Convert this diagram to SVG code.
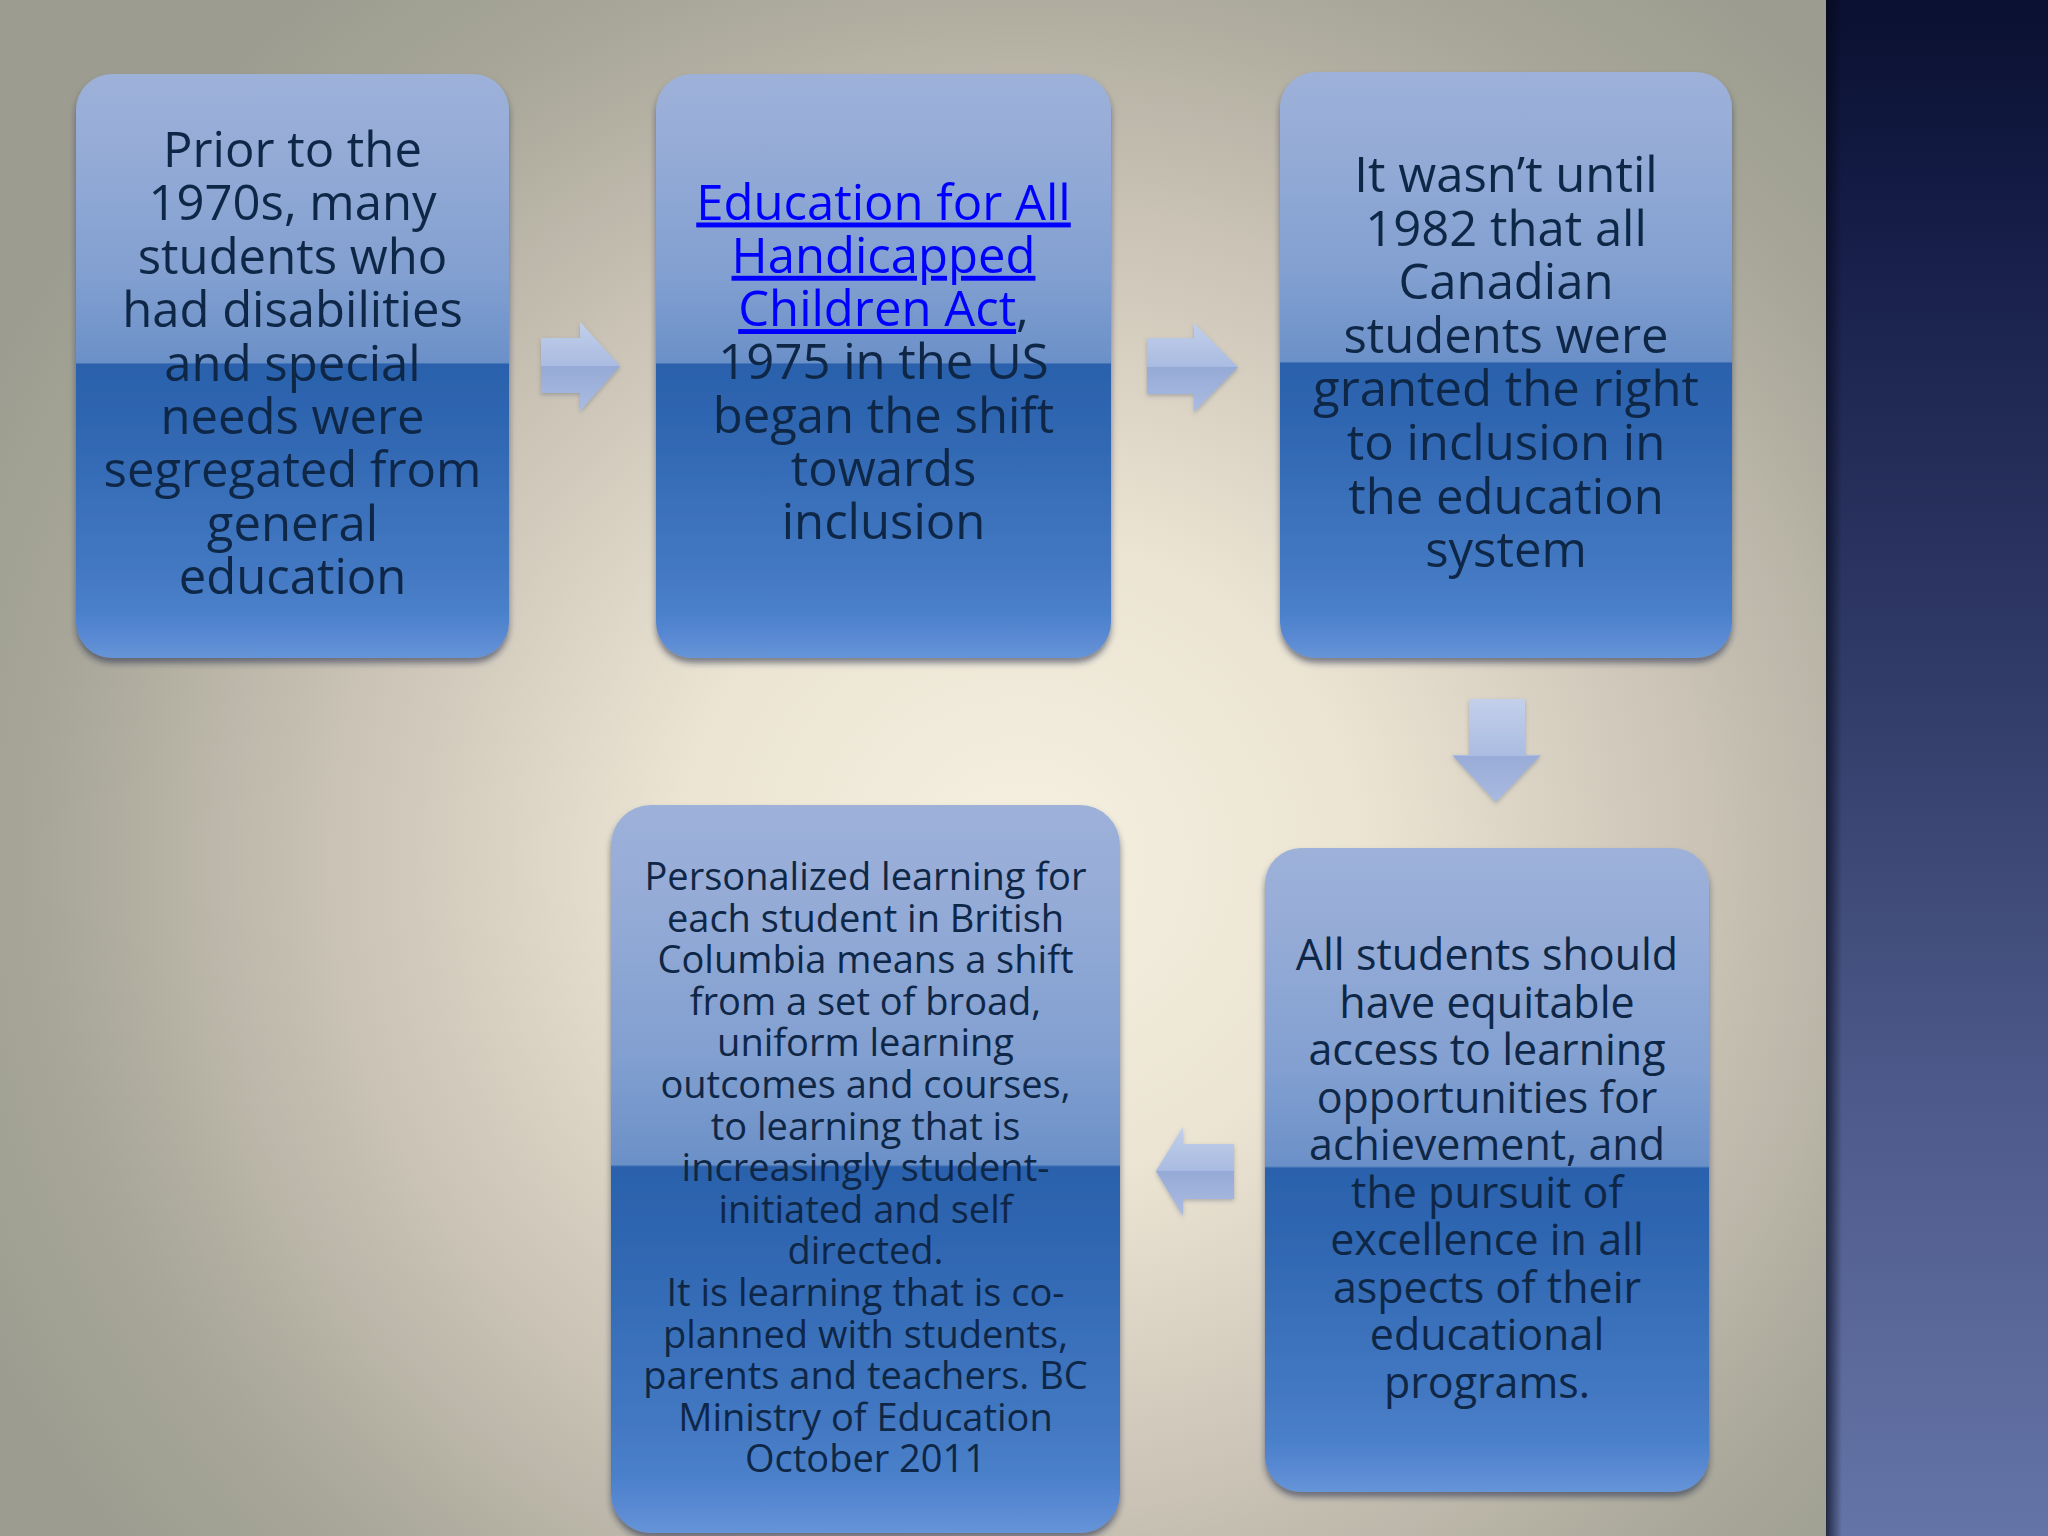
<svg xmlns="http://www.w3.org/2000/svg" width="2048" height="1536" viewBox="0 0 2048 1536">
  <defs>
    <radialGradient id="bg" gradientUnits="userSpaceOnUse" cx="1020" cy="860" r="1150" gradientTransform="translate(1020 860) scale(1 0.95) translate(-1020 -860)">
      <stop offset="0" stop-color="#f6f0e1"/>
      <stop offset="0.3" stop-color="#ebe4d3"/>
      <stop offset="0.6" stop-color="#c9c2b5"/>
      <stop offset="0.85" stop-color="#a7a698"/>
      <stop offset="1" stop-color="#9c9d90"/>
    </radialGradient>
    <linearGradient id="panel" x1="0" y1="0" x2="0" y2="1">
      <stop offset="0" stop-color="#0a1030"/>
      <stop offset="0.13" stop-color="#141c46"/>
      <stop offset="0.45" stop-color="#323c68"/>
      <stop offset="0.7" stop-color="#4c5889"/>
      <stop offset="1" stop-color="#6474a6"/>
    </linearGradient>
    <linearGradient id="panelEdge" x1="0" y1="0" x2="1" y2="0">
      <stop offset="0" stop-color="#050818" stop-opacity="0.7"/>
      <stop offset="1" stop-color="#050818" stop-opacity="0"/>
    </linearGradient>
    <linearGradient id="boxFill" x1="0" y1="0" x2="0" y2="1">
      <stop offset="0" stop-color="#9db1d9"/>
      <stop offset="0.12" stop-color="#96acd7"/>
      <stop offset="0.35" stop-color="#819fd0"/>
      <stop offset="0.494" stop-color="#6b90c8"/>
      <stop offset="0.497" stop-color="#2b61ac"/>
      <stop offset="0.6" stop-color="#2f66b1"/>
      <stop offset="0.86" stop-color="#4479c3"/>
      <stop offset="0.92" stop-color="#4a80ca"/>
      <stop offset="0.96" stop-color="#5888d2"/>
      <stop offset="1" stop-color="#6694d8"/>
    </linearGradient>
    <linearGradient id="arrowH" x1="0" y1="0" x2="0" y2="1">
      <stop offset="0" stop-color="#c2cfea"/>
      <stop offset="0.5" stop-color="#a9bbe1"/>
      <stop offset="0.5" stop-color="#95aad6"/>
      <stop offset="1" stop-color="#abbce2"/>
    </linearGradient>
    <linearGradient id="arrowV" x1="0" y1="0" x2="0" y2="1">
      <stop offset="0" stop-color="#c4d0ea"/>
      <stop offset="0.55" stop-color="#aabce2"/>
      <stop offset="0.55" stop-color="#98acd7"/>
      <stop offset="1" stop-color="#a9bae0"/>
    </linearGradient>
    <filter id="shadow" x="-10%" y="-10%" width="120%" height="120%">
      <feDropShadow dx="0" dy="5" stdDeviation="3" flood-color="#1a2c48" flood-opacity="0.55"/>
    </filter>
    <filter id="ashadow" x="-20%" y="-20%" width="140%" height="140%">
      <feDropShadow dx="0" dy="2" stdDeviation="2" flood-color="#4a5570" flood-opacity="0.35"/>
    </filter>
    <style>
      .box { fill: url(#boxFill); filter: url(#shadow); }
      .txt { font-family: "Open Sans", "Liberation Sans", sans-serif; fill: #0f2747; text-anchor: middle; }
      .big { font-size: 49px; }
      .mid { font-size: 43px; }
      .small { font-size: 38px; }
      .link { fill: #0000ff; text-decoration: underline; }
      .arrH { fill: url(#arrowH); filter: url(#ashadow); }
      .arrV { fill: url(#arrowV); filter: url(#ashadow); }
    </style>
  </defs>

  <!-- background -->
  <rect x="0" y="0" width="1826" height="1536" fill="url(#bg)"/>
  <rect x="1826" y="0" width="222" height="1536" fill="url(#panel)"/>
  <rect x="1826" y="0" width="16" height="1536" fill="url(#panelEdge)"/>

  <g id="connectors">
    <path id="arrow1" class="arrH" d="M541 338 H580 V322 L620 366 L580 411 V393 H541 Z"/>
    <path id="arrow2" class="arrH" d="M1147 338 H1194 V323 L1238 367 L1194 412 V394 H1147 Z"/>
    <path id="arrow3" class="arrV" d="M1469 699 H1525 V755 H1541 L1496 802 L1452 755 H1469 Z"/>
    <path id="arrow4" class="arrH" d="M1234 1144 H1183 V1127 L1156 1171 L1183 1216 V1199 H1234 Z"/>
  </g>

  <g id="node1">
    <rect class="box" x="76" y="74" width="433" height="584" rx="36" ry="36"/>
    <text class="txt big"><tspan x="292.5" y="167">Prior to the</tspan><tspan x="292.5" y="220.4">1970s, many</tspan><tspan x="292.5" y="273.8">students who</tspan><tspan x="292.5" y="327.2">had disabilities</tspan><tspan x="292.5" y="380.6">and special</tspan><tspan x="292.5" y="434">needs were</tspan><tspan x="292.5" y="487.4">segregated from</tspan><tspan x="292.5" y="540.8">general</tspan><tspan x="292.5" y="594.2">education</tspan></text>
  </g>

  <g id="node2">
    <rect class="box" x="656" y="74" width="455" height="584" rx="36" ry="36"/>
    <text class="txt big" x="883.5" y="219.5"><tspan class="link">Education for All</tspan></text>
    <text class="txt big" x="883.5" y="272.8"><tspan class="link">Handicapped</tspan></text>
    <text class="txt big" x="883.5" y="326.1"><tspan class="link">Children Act</tspan>,</text>
    <text class="txt big"><tspan x="883.5" y="379.4">1975 in the US</tspan><tspan x="883.5" y="432.7">began the shift</tspan><tspan x="883.5" y="486">towards</tspan><tspan x="883.5" y="539.3">inclusion</tspan></text>
  </g>

  <g id="node3">
    <rect class="box" x="1280" y="72" width="452" height="586" rx="36" ry="36"/>
    <text class="txt big"><tspan x="1506" y="192">It wasn’t until</tspan><tspan x="1506" y="245.6">1982 that all</tspan><tspan x="1506" y="299.2">Canadian</tspan><tspan x="1506" y="352.8">students were</tspan><tspan x="1506" y="406.4">granted the right</tspan><tspan x="1506" y="460">to inclusion in</tspan><tspan x="1506" y="513.6">the education</tspan><tspan x="1506" y="567.2">system</tspan></text>
  </g>

  <g id="node4">
    <rect class="box" x="1265" y="848" width="444" height="644" rx="36" ry="36"/>
    <text class="txt mid"><tspan x="1487" y="970">All students should</tspan><tspan x="1487" y="1017.5">have equitable</tspan><tspan x="1487" y="1065">access to learning</tspan><tspan x="1487" y="1112.5">opportunities for</tspan><tspan x="1487" y="1160">achievement, and</tspan><tspan x="1487" y="1207.5">the pursuit of</tspan><tspan x="1487" y="1255">excellence in all</tspan><tspan x="1487" y="1302.5">aspects of their</tspan><tspan x="1487" y="1350">educational</tspan><tspan x="1487" y="1397.5">programs.</tspan></text>
  </g>

  <g id="node5">
    <rect class="box" x="611" y="805" width="509" height="728" rx="40" ry="40"/>
    <text class="txt small"><tspan x="865.5" y="890">Personalized learning for</tspan><tspan x="865.5" y="931.6">each student in British</tspan><tspan x="865.5" y="973.2">Columbia means a shift</tspan><tspan x="865.5" y="1014.8">from a set of broad,</tspan><tspan x="865.5" y="1056.4">uniform learning</tspan><tspan x="865.5" y="1098">outcomes and courses,</tspan><tspan x="865.5" y="1139.6">to learning that is</tspan><tspan x="865.5" y="1181.2">increasingly student-</tspan><tspan x="865.5" y="1222.8">initiated and self</tspan><tspan x="865.5" y="1264.4">directed.</tspan><tspan x="865.5" y="1306">It is learning that is co-</tspan><tspan x="865.5" y="1347.6">planned with students,</tspan><tspan x="865.5" y="1389.2">parents and teachers. BC</tspan><tspan x="865.5" y="1430.8">Ministry of Education</tspan><tspan x="865.5" y="1472.4">October 2011</tspan></text>
  </g>
</svg>
